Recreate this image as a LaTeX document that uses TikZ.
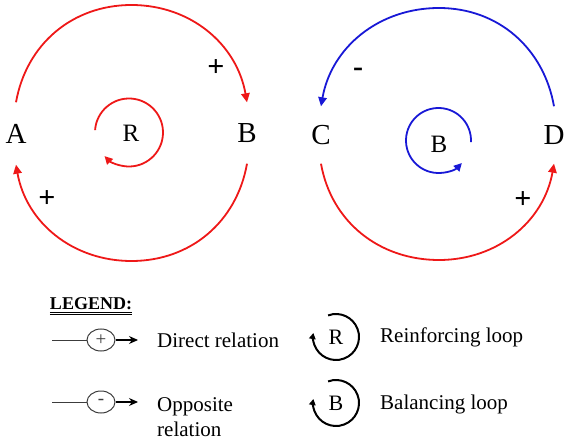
\documentclass[tikz,border=0pt]{standalone}
\usepackage{fontspec}
\setmainfont{Liberation Serif}
\usetikzlibrary{arrows.meta,shapes.geometric,calc}
\definecolor{cldred}{RGB}{238,24,24}
\definecolor{cldblue}{RGB}{24,24,214}
\definecolor{lgray}{RGB}{60,60,60}
\tikzset{
  varnode/.style={inner sep=0pt, minimum width=20pt, font=\fontsize{29}{29}\selectfont},
  loopname/.style={inner sep=0pt, font=\fontsize{25}{25}\selectfont},
  signlbl/.style={inner sep=0pt, font=\fontsize{30}{30}\selectfont\bfseries},
  linkred/.style={draw=cldred, line width=1.8pt, -{Triangle[length=9pt,width=8.5pt]}},
  linkblue/.style={draw=cldblue, line width=1.8pt, -{Triangle[length=9pt,width=8.5pt]}},
  loopred/.style={draw=cldred, line width=1.8pt, -{Triangle[length=8pt,width=8pt]}},
  loopblue/.style={draw=cldblue, line width=1.8pt, -{Triangle[length=8pt,width=8pt]}},
  legtext/.style={inner sep=0pt, anchor=west, font=\fontsize{21}{25}\selectfont},
  legsign/.style={draw=lgray, line width=1pt, ellipse, inner sep=0pt, minimum width=28pt, minimum height=22pt, font=\fontsize{19}{19}\selectfont\color{lgray}},
  legline/.style={draw=lgray, line width=1pt},
  legarrow/.style={draw=black, line width=1.1pt, -{Stealth[length=9pt,width=8pt]}},
  legloop/.style={draw=black, line width=2pt, -{Triangle[length=6pt,width=6.5pt]}},
  legloopname/.style={inner sep=0pt, font=\fontsize{22}{22}\selectfont},
}
\begin{document}
\begin{tikzpicture}[x=1pt,y=1pt]
\useasboundingbox (0,0) rectangle (567,442);
% ---- left loop ----
\node[varnode, minimum height=62pt] (A) at (16,308.5) {A};
\node[varnode, minimum height=61pt] (B) at (247,309) {B};
\coordinate (ABtop) at (131.5,437);
\coordinate (ABbot) at (131.5,181);
\draw[linkred] (A.north) to[out=80,in=180] (ABtop) to[out=0,in=100] (B.north);
\draw[linkred] (B.south) to[out=-100,in=0] (ABbot) to[out=180,in=-80] (A.south);
\node[signlbl] (p1) at (216,374) {+};
\node[signlbl] (p2) at (47,243) {+};
\node[loopname] (Rc) at (131,309) {R};
\coordinate (Rcen) at (129,309.5);
\draw[loopred] ($(Rcen)+(176:34)$) arc[start angle=176, end angle=-136, radius=34];
% ---- right loop ----
\node[varnode, minimum height=57pt] (C) at (321,307) {C};
\node[varnode, minimum height=57pt] (D) at (554,307) {D};
\coordinate (CDtop) at (439,434);
\coordinate (CDbot) at (439,182);
\draw[linkblue] (D.north) to[out=100,in=0] (CDtop) to[out=180,in=80] (C.north);
\draw[linkred] (C.south) to[out=-80,in=180] (CDbot) to[out=0,in=-100] (D.south);
\node[signlbl] (m1) at (358,370) {-};
\node[signlbl] (p3) at (523,242) {+};
\node[loopname] (Bc) at (439,298) {B};
\coordinate (Bcen) at (438.5,301.5);
\draw[loopblue] ($(Bcen)+(-3:32.5)$) arc[start angle=-3, end angle=316, radius=32.5];
% ---- legend ----
\node[inner sep=0pt, font=\fontsize{18}{18}\selectfont\bfseries] (leg) at (91,138.5) {LEGEND:};
\draw[line width=1.4pt] ($(leg.south west)+(0,-2.5)$) -- ($(leg.south east)+(0,-2.5)$);
\draw[line width=0.6pt] ($(leg.south west)+(0,-5)$) -- ($(leg.south east)+(0,-5)$);
% direct relation
\coordinate (d0) at (52,102);
\node[legsign] (dp) at (101,102) {+};
\coordinate (d1) at (138,102);
\draw[legline] (d0) -- (dp.west);
\draw[legarrow] (dp.east) -- (d1);
\node[legtext] (dt) at (157,102) {Direct relation};
% opposite relation
\coordinate (o0) at (52,40);
\node[legsign] (op) at (101,40) {-};
\coordinate (o1) at (138,40);
\draw[legline] (o0) -- (op.west);
\draw[legarrow] (op.east) -- (o1);
\node[legtext, align=left] (ot) at (157,25) {Opposite\\relation};
% reinforcing loop
\node[legloopname] (Rl) at (336,105) {R};
\draw[legloop] ($(Rl.center)+(110:23)$) arc[start angle=110, end angle=-190, radius=23];
\node[legtext] (rt) at (380,105) {Reinforcing loop};
% balancing loop
\node[legloopname] (Bl) at (336,39) {B};
\draw[legloop] ($(Bl.center)+(110:23)$) arc[start angle=110, end angle=-190, radius=23];
\node[legtext] (bt) at (380,38) {Balancing loop};
\end{tikzpicture}
\end{document}
